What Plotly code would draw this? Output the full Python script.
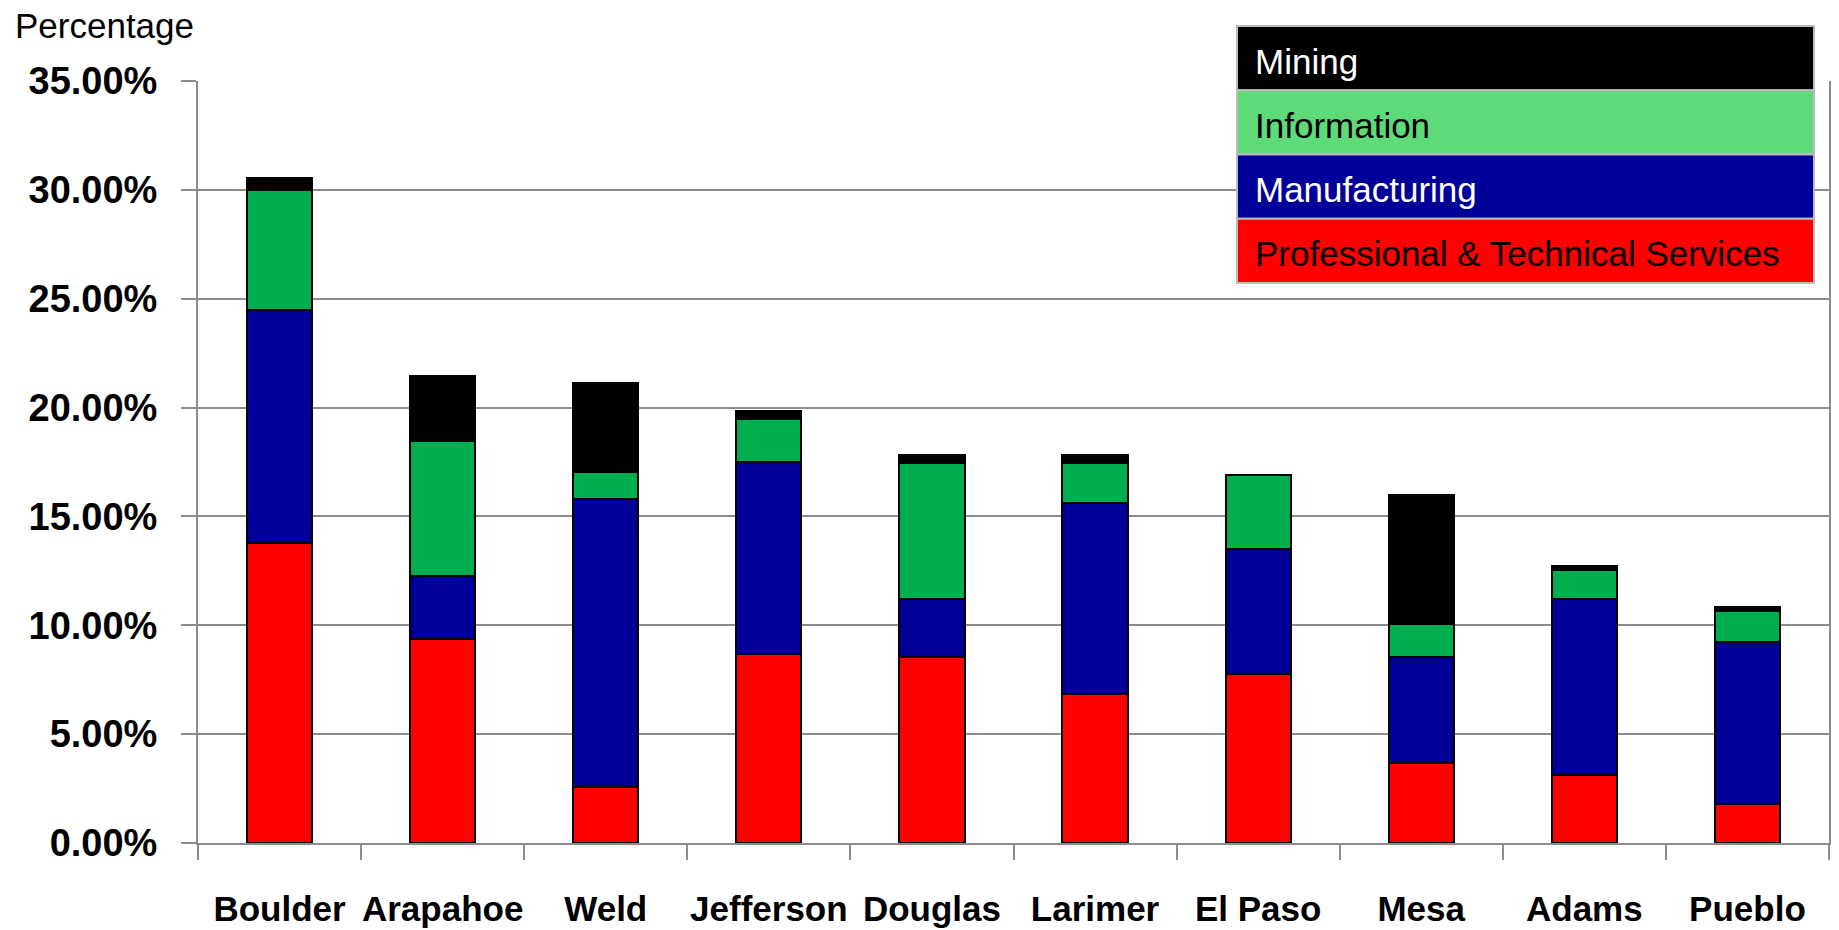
import plotly.graph_objects as go

counties = ["Boulder", "Arapahoe", "Weld", "Jefferson", "Douglas",
            "Larimer", "El Paso", "Mesa", "Adams", "Pueblo"]
professional = [13.79, 9.37, 2.55, 8.67, 8.56, 6.84, 7.75, 3.66, 3.12, 1.78]
manufacturing = [10.71, 2.91, 13.23, 8.83, 2.64, 8.78, 5.77, 4.90, 8.08, 7.43]
information = [5.50, 6.19, 1.24, 1.99, 6.25, 1.83, 3.39, 1.51, 1.35, 1.45]
mining = [0.53, 2.96, 4.09, 0.33, 0.37, 0.37, 0.00, 5.92, 0.16, 0.16]

series_names = ["Professional & Technical Services", "Manufacturing", "Information", "Mining"]
series_values = [professional, manufacturing, information, mining]
bar_colors = ["#FF0000", "#000099", "#00AD4F", "#000000"]
legend_colors = ["#FF0000", "#000099", "#5EDB78", "#000000"]
legend_text_colors = ["#000000", "#FFFFFF", "#000000", "#FFFFFF"]

y_ticks = [0, 5, 10, 15, 20, 25, 30, 35]
y_tick_text = [f"{v:.2f}%" for v in y_ticks]

FONT = "Liberation Sans, Arial, sans-serif"

# page body has an 8px margin; work in figure coordinates
OFF = 8
W, H = 1839 - OFF, 930 - OFF
PL, PR, PT, PB = 198 - OFF, 1829 - OFF, 81 - OFF, 843 - OFF

def px(x):
    return (x - OFF - PL) / (PR - PL)

def py(y):
    return (PB - (y - OFF)) / (PB - PT)

fig = go.Figure()
for name, vals, col in zip(series_names, series_values, bar_colors):
    fig.add_trace(go.Bar(
        x=counties, y=vals, name=name,
        marker=dict(color=col, line=dict(color="#000000", width=2)),
        showlegend=False,
    ))

# Custom legend (stacked coloured rows), in screenshot pixel coordinates
LX0, LX1, LY0, LY1 = 1237, 1814, 26, 283
row_h = (LY1 - LY0) / 4
shapes = []
annotations = []
order = [3, 2, 1, 0]  # Mining on top
for i, idx in enumerate(order):
    y0 = LY0 + i * row_h
    y1 = y0 + row_h
    shapes.append(dict(type="rect", xref="paper", yref="paper",
                       x0=px(LX0), x1=px(LX1), y0=py(y1), y1=py(y0),
                       fillcolor=legend_colors[idx], line=dict(color="#BBBBBB", width=2),
                       layer="above"))
    annotations.append(dict(xref="paper", yref="paper", x=px(LX0 + 16), y=py((y0 + y1) / 2 + 3),
                            xanchor="left", yanchor="middle", showarrow=False,
                            text=series_names[idx],
                            font=dict(family=FONT, size=35, color=legend_text_colors[idx])))

annotations.append(dict(xref="paper", yref="paper", x=px(13), y=py(26),
                        xanchor="left", yanchor="middle", showarrow=False,
                        text="Percentage", font=dict(family=FONT, size=35, color="#000000")))

fig.update_layout(
    width=W, height=H,
    margin=dict(l=PL, r=W - PR, t=PT, b=H - PB, autoexpand=False),
    barmode="stack", bargap=0.6,
    plot_bgcolor="#FFFFFF", paper_bgcolor="#FFFFFF",
    shapes=shapes, annotations=annotations,
    font=dict(family=FONT, color="#000000"),
)
fig.update_xaxes(
    type="category", showgrid=False, showline=True, linecolor="#8C8C8C", linewidth=2,
    ticks="outside", tickson="boundaries", ticklen=15, tickcolor="#8C8C8C", tickwidth=1.5,
    tickfont=dict(family=FONT, size=35, color="#000000", weight="bold"),
    tickangle=0, ticklabelstandoff=34, automargin=False,
)
fig.update_yaxes(
    range=[0, 35], tickvals=y_ticks, ticktext=y_tick_text,
    showgrid=True, gridcolor="#8C8C8C", gridwidth=2,
    showline=True, linecolor="#8C8C8C", linewidth=2, mirror=True,
    ticks="outside", ticklen=15, tickcolor="#8C8C8C", tickwidth=1.5,
    tickfont=dict(family=FONT, size=38, color="#000000", weight="bold"),
    ticklabelstandoff=16, automargin=False, zeroline=False,
)

fig.write_html("out.html")
